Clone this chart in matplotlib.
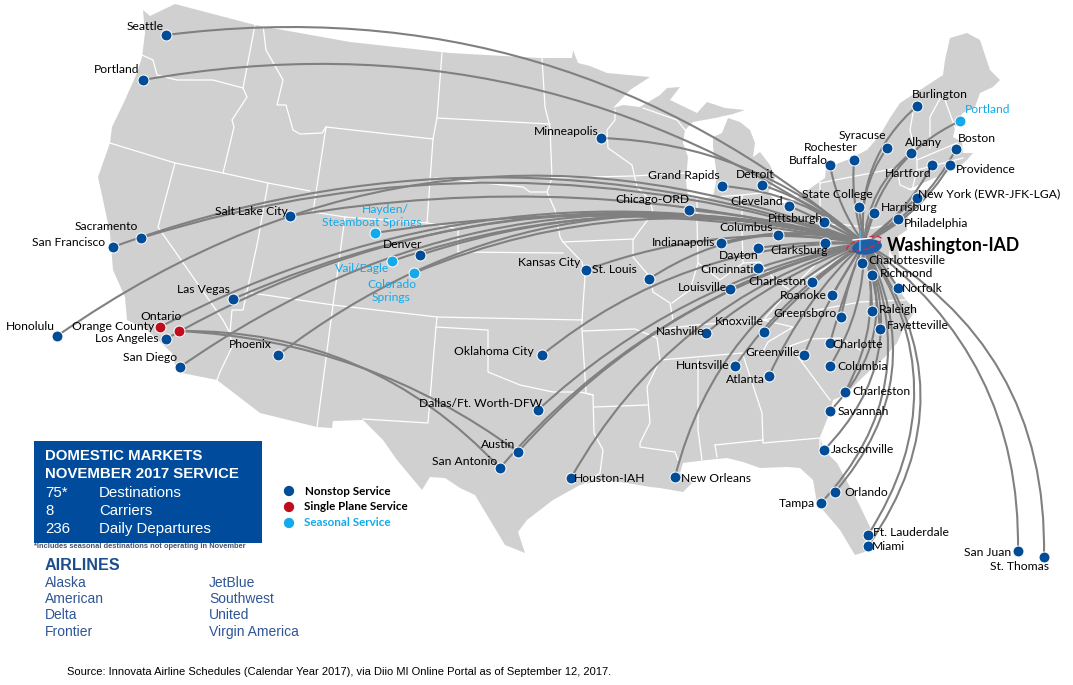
import matplotlib
matplotlib.use("Agg")
import matplotlib.pyplot as plt
from matplotlib.patches import Polygon, Rectangle, Ellipse, PathPatch
from matplotlib.path import Path

NAVY = '#004c97'
RED = '#c00d1e'
CYAN = '#12aaeb'
LAND = '#d0d0d0'
ROUTE = '#808080'

hubX = 864
hubY = 243

# map, in picture pixels
usaOutline = [(143,10),(150,16),(175,4),(255,25),(350,42),(450,53),(540,58),(572,58),(573,50),(578,63),(590,66),
    (607,73),(650,77),(630,90),(613,108),(623,105),(640,107),(660,95),(667,88),(680,87),(670,100),(697,113),(707,102),
    (725,108),(745,110),(733,114),(715,118),(693,122),(685,130),(683,143),(688,157),(686,180),(688,197),(700,199),(713,197),
    (717,177),(713,147),(713,137),(722,133),(728,118),(740,122),(750,130),(755,143),(753,157),(760,152),(770,165),(775,177),
    (768,193),(778,203),(790,203),(805,192),(825,178),(826,168),(847,160),(867,150),(880,135),(890,118),(900,103),(920,90),
    (943,75),(945,60),(950,38),(967,33),(980,40),(990,70),(1000,80),(993,87),(980,93),(975,107),(963,113),(957,120),(953,137),
    (962,142),(963,153),(973,153),(967,160),(957,168),(930,180),(907,190),(933,190),(917,203),(908,213),(907,230),(897,237),
    (900,267),(889,250),(888,270),(897,287),(906,300),(916,310),(905,325),(897,343),(885,357),(863,377),(845,395),(833,400),
    (830,412),(820,437),(824,450),(837,463),(857,500),(870,527),(871,550),(855,555),(840,530),(817,503),(813,480),(800,468),
    (787,467),(760,468),(743,462),(727,458),(707,460),(683,463),(680,473),(692,483),(683,492),(660,488),(650,487),(627,483),
    (603,480),(580,485),(553,500),(527,520),(518,532),(525,553),(505,545),(490,520),(475,495),(460,488),(445,478),(430,477),
    (422,490),(397,460),(383,440),(363,420),(333,421),(332,428),(317,427),(260,413),(217,380),(177,372),(172,353),(147,330),
    (127,320),(125,297),(113,270),(110,233),(103,200),(98,177),(110,143),(112,127),(125,100),(137,73),(142,57),(145,33)]

stateLines = [
    [(142,55),(153,60),(157,75),(177,80),(213,80),(243,88)],
    [(255,25),(243,88),(247,97),(232,120),(234,127),(223,173)],
    [(110,143),(175,163),(223,173),(268,183),(310,191)],
    [(263,25),(266,50),(283,80),(277,105),(286,105),(293,130),(300,134),(322,133),(326,127)],
    [(326,127),(433,139)],
    [(326,127),(313,212),(345,217),(428,223),(458,229),(458,252)],
    [(442,53),(437,118),(433,139),(427,223)],
    [(437,118),(550,124)],
    [(268,183),(258,240),(243,310),(232,310),(230,333),(232,347),(220,372),(217,380)],
    [(175,163),(158,227),(223,320),(230,333)],
    [(245,292),(333,305),(437,317),(582,320)],
    [(345,217),(333,305),(317,427)],
    [(437,317),(436,327),(428,423),(363,419)],
    [(436,327),(488,330),(488,372),(520,385),(553,392),(580,392),(593,395),(594,433),(603,450),(600,473),(580,487)],
    [(582,320),(582,330),(586,393),(593,395)],
    [(583,331),(635,329),(657,338),(660,360),(647,387),(650,423),(640,443),(640,447),(675,452),(678,460)],
    [(594,407),(647,405)],
    [(435,178),(523,187),(530,192),(547,192),(555,210),(560,237),(563,242),(582,262),(585,277),(582,320)],
    [(458,252),(563,253)],
    [(542,58),(545,107),(550,127),(552,178),(547,192)],
    [(552,178),(633,176),(687,173)],
    [(563,242),(633,239)],
    [(615,110),(615,120),(607,130),(608,148),(632,165),(637,187),(650,200),(653,213),(640,230),(633,240),(633,257),(650,277),
     (653,292),(670,303),(673,320),(657,330)],
    [(643,108),(677,120),(685,130)],
    [(697,173),(697,220),(698,263),(690,290),(672,303)],
    [(698,263),(720,280),(743,263),(760,262),(775,280),(790,290),(765,318)],
    [(713,197),(742,195),(762,193)],
    [(742,195),(742,230),(743,263)],
    [(820,183),(820,227),(825,255),(805,275),(790,290),(830,265),(855,245)],
    [(820,227),(838,224),(873,228),(897,223)],
    [(820,183),(897,168),(900,185),(912,190),(917,170),(917,160)],
    [(657,330),(695,325),(763,320),(860,302),(905,300)],
    [(660,360),(743,353),(762,353),(768,342),(793,327),(763,320)],
    [(698,360),(698,430),(702,460)],
    [(743,355),(762,413),(763,443),(820,438),(820,447)],
    [(715,445),(763,440)],
    [(715,445),(717,457)],
    [(790,346),(810,339),(840,338),(860,350)],
    [(790,346),(830,400)],
    [(913,113),(910,130),(917,160),(957,143)],
    [(943,93),(930,117),(930,148)],
    [(945,100),(957,133)],
    [(917,170),(963,158)],
    [(948,163),(948,173)],
]

# city dots and how far each route arcs away from its straight line
cityNames = ['Seattle','Portland','Minneapolis','Burlington','Syracuse','Rochester','Albany','Boston','Buffalo','Hartford',
    'Providence','Grand Rapids','Detroit','State College','New York','Cleveland','Harrisburg','Pittsburgh','Philadelphia',
    'Chicago-ORD','Columbus','Salt Lake City','Indianapolis','Sacramento','San Francisco','Denver','Clarksburg','Dayton',
    'Charlottesville','Kansas City','St. Louis','Cincinnati','Richmond','Charleston WV','Louisville','Norfolk','Las Vegas',
    'Roanoke','Greensboro','Raleigh','Honolulu','Fayetteville','Knoxville','Nashville','Los Angeles','Charlotte','San Diego',
    'Phoenix','Greenville','Oklahoma City','Huntsville','Columbia','Atlanta','Charleston SC','Dallas','Savannah','Jacksonville',
    'Austin','San Antonio','Houston','New Orleans','Orlando','Tampa','Ft. Lauderdale','Miami','San Juan','St. Thomas']
cityX = [166,143,601,917,887,854,911,956,830,932,950,722,762,859,917,789,874,824,898,689,778,290,721,141,113,420,825,758,862,
    586,649,758,872,812,730,898,233,832,841,872,57,880,764,706,166,830,180,278,804,542,735,830,769,845,538,830,824,518,500,
    571,675,835,821,868,868,1018,1044]
cityY = [35,80,138,106,148,160,153,149,165,165,165,186,185,207,198,206,213,222,219,210,235,216,243,238,247,255,243,248,263,
    270,279,268,275,282,289,288,299,295,317,311,336,329,332,333,339,343,367,355,355,355,366,366,376,392,410,411,450,452,468,
    478,477,492,503,535,546,551,557]
cityBend = [.22,.21,.18,-.26,-.2,-.1,-.22,.15,-.12,.12,.15,.16,.1,-.02,0,.03,0,0,0,.05,.03,.11,.14,.16,.18,.15,0,.05,0,.13,
    .22,.05,-.02,0,.05,-.05,.17,0,.05,-.05,.27,-.05,.05,.08,.2,.03,.23,.25,.05,.18,.1,-.15,.1,-.2,.14,-.32,-.33,.155,.16,.2,
    .23,-.34,-.33,-.33,-.36,-.26,-.3]

seasonalNames = ['Portland ME','Hayden','Vail/Eagle','Colorado Springs']
seasonalX = [960,375,392,414]
seasonalY = [121,233,261,273]
seasonalBend = [-.25,.09,.15,.17]

singleNames = ['Ontario','Orange County']
singleX = [160,179]
singleY = [327,331]
singleBend = [.19,0]

# Orange County one-stop lines run out to Texas, not to the hub
texasX = [518,500]
texasY = [452,468]
texasBend = [.15,.22]

labelText = ['Seattle','Portland','Minneapolis','Burlington','Syracuse','Rochester','Albany','Boston','Buffalo','Hartford',
    'Providence','Grand Rapids','Detroit','State College','New York (EWR-JFK-LGA)','Cleveland','Harrisburg','Pittsburgh',
    'Philadelphia','Chicago-ORD','Columbus','Salt Lake City','Indianapolis','Sacramento','San Francisco','Denver','Clarksburg',
    'Dayton','Charlottesville','Kansas City','St. Louis','Cincinnati','Richmond','Charleston','Louisville','Norfolk','Las Vegas',
    'Roanoke','Ontario','Greensboro','Raleigh','Orange County','Honolulu','Fayetteville','Knoxville','Nashville','Los Angeles',
    'Charlotte','San Diego','Phoenix','Greenville','Oklahoma City','Huntsville','Columbia','Atlanta','Charleston',
    'Dallas/Ft. Worth-DFW','Savannah','Jacksonville','Austin','San Antonio','Houston-IAH','New Orleans','Orlando','Tampa',
    'Ft. Lauderdale','Miami','San Juan','St. Thomas']
labelX = [145,117,566,940,862,831,923,977,808,908,986,684,755,837,989,757,909,795,936,652,746,251,684,106,69,403,799,739,907,
    549,614,727,907,777,702,922,203,803,161,805,898,113,30,918,739,680,127,858,150,250,773,494,703,863,745,881,481,863,863,
    498,465,610,716,866,797,911,888,988,1020]
labelY = [26,69,131,94,135,147,142,138,160,173,169,175,174,194,194,201,207,218,223,199,227,211,242,226,242,244,250,255,260,
    262,269,269,273,281,287,288,289,295,316,313,309,326,326,325,321,331,338,344,357,344,352,351,365,366,379,391,403,411,449,
    444,461,478,478,492,503,533,546,553,567]

seasonalLabels = ['Portland','Hayden/','Steamboat Springs','Vail/Eagle','Colorado','Springs']
seasonalLabelX = [988,385,372,362,392,391]
seasonalLabelY = [109,209,222,268,284,297]

boxRows = ['75*','8','236']
boxWords = ['Destinations','Carriers','Daily Departures']
airlinesLeft = ['Alaska','American','Delta','Frontier']
airlinesRight = ['JetBlue','Southwest','United','Virgin America']
legendNames = ['Nonstop Service','Single Plane Service','Seasonal Service']
legendColors = [NAVY,RED,CYAN]
legendTextColors = ['black','black',CYAN]

plt.rcParams['font.family'] = ['Lato','DejaVu Sans']

fig = plt.figure(figsize=(10.73,6.85),dpi=100)
ax = fig.add_axes([0,0,1,1])
ax.set_xlim(0,1073)
ax.set_ylim(685,0)
ax.axis('off')

ax.add_patch(Polygon(usaOutline,closed=True,facecolor=LAND,edgecolor='none',zorder=1))
for line in stateLines:
    ax.plot([p[0] for p in line],[p[1] for p in line],color='white',lw=0.9,zorder=2,solid_joinstyle='round')

def drawArc(x0,y0,x1,y1,bend):
    dx = x1-x0
    dy = y1-y0
    cx = (x0+x1)/2 + bend*dy
    cy = (y0+y1)/2 - bend*dx
    path = Path([(x0,y0),(cx,cy),(x1,y1)],[Path.MOVETO,Path.CURVE3,Path.CURVE3])
    ax.add_patch(PathPatch(path,facecolor='none',edgecolor=ROUTE,lw=1.5,zorder=3))

for i in range(len(cityX)):
    drawArc(cityX[i],cityY[i],hubX,hubY,cityBend[i])
for i in range(len(seasonalX)):
    drawArc(seasonalX[i],seasonalY[i],hubX,hubY,seasonalBend[i])
drawArc(singleX[0],singleY[0],hubX,hubY,singleBend[0])
for i in range(len(texasX)):
    drawArc(singleX[1],singleY[1],texasX[i],texasY[i],texasBend[i])

ax.scatter(cityX,cityY,s=62,c=NAVY,edgecolors='white',linewidths=0.7,zorder=4)
ax.scatter(seasonalX,seasonalY,s=62,c=CYAN,edgecolors='white',linewidths=0.7,zorder=4)
ax.scatter(singleX,singleY,s=62,c=RED,edgecolors='white',linewidths=0.7,zorder=4)

# hub logo
ax.add_patch(Ellipse((867,247),30,15,angle=-8,facecolor='#1f5fa8',edgecolor='none',zorder=5))
ax.add_patch(Ellipse((864,244),36,11,angle=-18,facecolor='none',edgecolor='#d8283c',lw=1,ls='--',zorder=6))
ax.plot([860,860],[232,250],color='#5aa7dd',lw=1.5,zorder=6)
ax.plot([853,871],[240,238],color='white',lw=1,zorder=6)

for i in range(len(labelText)):
    ax.text(labelX[i],labelY[i],labelText[i],fontsize=8.7,color='black',ha='center',va='center',zorder=7)
for i in range(len(seasonalLabels)):
    ax.text(seasonalLabelX[i],seasonalLabelY[i],seasonalLabels[i],fontsize=8.7,color=CYAN,ha='center',va='center',zorder=7)
ax.text(953,245,'Washington-IAD',fontsize=12.7,fontweight='bold',color='black',ha='center',va='center',zorder=7)

# info box
ax.add_patch(Rectangle((34,441),228,102,facecolor='#004b9b',edgecolor='none',zorder=4))
arial = 'Liberation Sans'
ax.text(45,456,'DOMESTIC MARKETS',family=arial,fontsize=10.8,fontweight='bold',color='white',va='center',zorder=5)
ax.text(45,474,'NOVEMBER 2017 SERVICE',family=arial,fontsize=10.8,fontweight='bold',color='white',va='center',zorder=5)
rowY = [493,511,529]
for i in range(3):
    ax.text(45,rowY[i],boxRows[i],family=arial,fontsize=10.8,color='white',va='center',zorder=5)
    ax.text(99,rowY[i],boxWords[i],family=arial,fontsize=10.8,color='white',va='center',zorder=5)
ax.text(34,547,'*Includes seasonal destinations not operating in November',family=arial,fontsize=5.45,fontweight='bold',color='#44546a',va='center')

ax.text(45,565,'AIRLINES',family=arial,fontsize=11.6,fontweight='bold',color='#1c4e8f',va='center')
airlineY = [583,599,615,632]
for i in range(4):
    ax.text(45,airlineY[i],airlinesLeft[i],family=arial,fontsize=10,color='#2f5597',va='center')
    ax.text(209,airlineY[i],airlinesRight[i],family=arial,fontsize=10,color='#2f5597',va='center')

legendY = [491,507,523]
legendTextX = [305,304,304]
for i in range(3):
    ax.scatter([289],[legendY[i]],s=55,c=legendColors[i],edgecolors='none',zorder=4)
    ax.text(legendTextX[i],legendY[i],legendNames[i],fontsize=8.4,fontweight='bold',color=legendTextColors[i],va='center')

ax.text(67,672,'Source: Innovata Airline Schedules (Calendar Year 2017), via Diio MI Online Portal as of September 12, 2017.',
    family=arial,fontsize=7.98,color='black',va='center')

fig.savefig('out.png',dpi=100)
